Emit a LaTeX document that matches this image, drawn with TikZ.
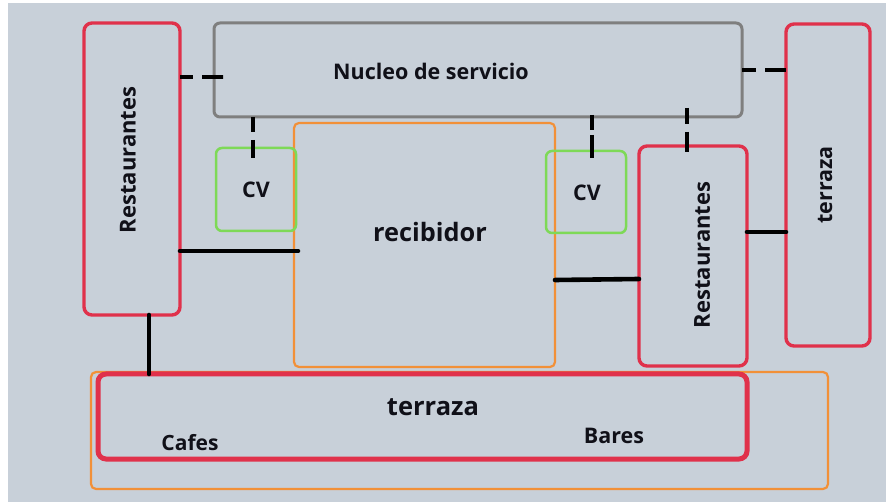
\documentclass[tikz,border=0pt]{standalone}
\usepackage{fontspec}
\setmainfont{Open Sans}
\definecolor{bg}{HTML}{C8D0D9}
\definecolor{rred}{HTML}{E0314B}
\definecolor{ggray}{HTML}{7F7F7F}
\definecolor{oorange}{HTML}{F29038}
\definecolor{ggreen}{HTML}{7ED957}
\definecolor{txt}{HTML}{101018}
\begin{document}
\begin{tikzpicture}[x=1pt,y=-1pt,
  shp/.style={inner sep=0pt,outer sep=0pt,anchor=north west},
  redbox/.style={shp,draw=rred,line width=3.4pt,rounded corners=8pt},
  graybox/.style={shp,draw=ggray,line width=3pt,rounded corners=6pt},
  orbox/.style={shp,draw=oorange,line width=2.2pt,rounded corners=5pt},
  grbox/.style={shp,draw=ggreen,line width=2.5pt,rounded corners=6pt},
  conn/.style={line width=4.6pt,line cap=round,black},
  lbl/.style={inner sep=0pt,text=txt,font=\bfseries}
]
\fill[white] (0,0) rectangle (886,502);
\fill[bg] (8,3) rectangle (886,502);
\useasboundingbox (0,0) rectangle (886,502);

% shapes
\node[orbox,minimum width=737pt,minimum height=117pt] (bo) at (91,372) {};
\node[orbox,minimum width=261pt,minimum height=244pt] (rec) at (294,123) {};
\node[graybox,minimum width=528pt,minimum height=94pt] (nuc) at (214,23) {};
\node[redbox,minimum width=96pt,minimum height=292pt] (lr) at (84,23) {};
\node[redbox,minimum width=84pt,minimum height=322pt] (rt) at (786,24) {};
\node[grbox,minimum width=80pt,minimum height=83pt] (cvl) at (216,148) {};
\node[grbox,minimum width=80pt,minimum height=82pt] (cvr) at (546,151) {};
\node[redbox,minimum width=108pt,minimum height=220pt] (mr) at (639,146) {};
\node[redbox,line width=5pt,minimum width=649pt,minimum height=85pt] (bt) at (98,374) {};

% labels
\node[lbl,font=\bfseries\fontsize{21.5}{24}\selectfont] (tnuc) at (431,71) {Nucleo de servicio};
\node[lbl,font=\bfseries\fontsize{21.5}{24}\selectfont] (tcvl) at (256,190) {CV};
\node[lbl,font=\bfseries\fontsize{21.5}{24}\selectfont] (tcvr) at (587,193) {CV};
\node[lbl,font=\bfseries\fontsize{25.3}{28}\selectfont] (trec) at (430,232) {recibidor};
\node[lbl,font=\bfseries\fontsize{22}{25}\selectfont,rotate=90] (tlr) at (128,160) {Restaurantes};
\node[lbl,font=\bfseries\fontsize{22}{25}\selectfont,rotate=90] (tmr) at (702,255) {Restaurantes};
\node[lbl,font=\bfseries\fontsize{21.5}{24}\selectfont,rotate=90] (trt) at (825,185) {terraza};
\node[lbl,font=\bfseries\fontsize{25.5}{28}\selectfont] (tbt) at (433,407) {terraza};
\node[lbl,font=\bfseries\fontsize{21}{24}\selectfont] (tcaf) at (190,443) {Cafes};
\node[lbl,font=\bfseries\fontsize{21.5}{24}\selectfont] (tbar) at (614,436) {Bares};

% connectors
\draw[conn,line cap=butt,dash pattern=on 13pt off 9pt on 21pt off 0pt] (lr.east |- 0,77) -- (nuc.west |- 0,77) -- ++(9,0);
\draw[conn,line cap=butt,dash pattern=on 14pt off 9pt on 21pt off 0pt] (nuc.east |- 0,70) -- (rt.west |- 0,70);
\draw[conn,line cap=butt,dash pattern=on 15pt off 8pt on 20pt off 0pt] (nuc.south -| 253,0) -- (cvl.north -| 253,0) -- ++(0,10);
\draw[conn,line cap=butt,dash pattern=on 15pt off 5pt on 23pt off 0pt] (592,115) -- (cvr.north -| 592,0) -- ++(0,7);
\draw[conn,line cap=butt,dash pattern=on 16pt off 8pt on 20pt off 0pt] (687,108) -- (mr.north -| 687,0) -- ++(0,6);
\draw[conn] (lr.east |- 0,251) -- (rec.west |- 0,251) -- ++(4,0);
\draw[conn] (rec.east |- 0,280) -- (mr.west |- 0,279);
\draw[conn] (mr.east |- 0,232) -- (rt.west |- 0,232);
\draw[conn] (lr.south -| 149,0) -- (bt.north -| 149,0);
\end{tikzpicture}
\end{document}
